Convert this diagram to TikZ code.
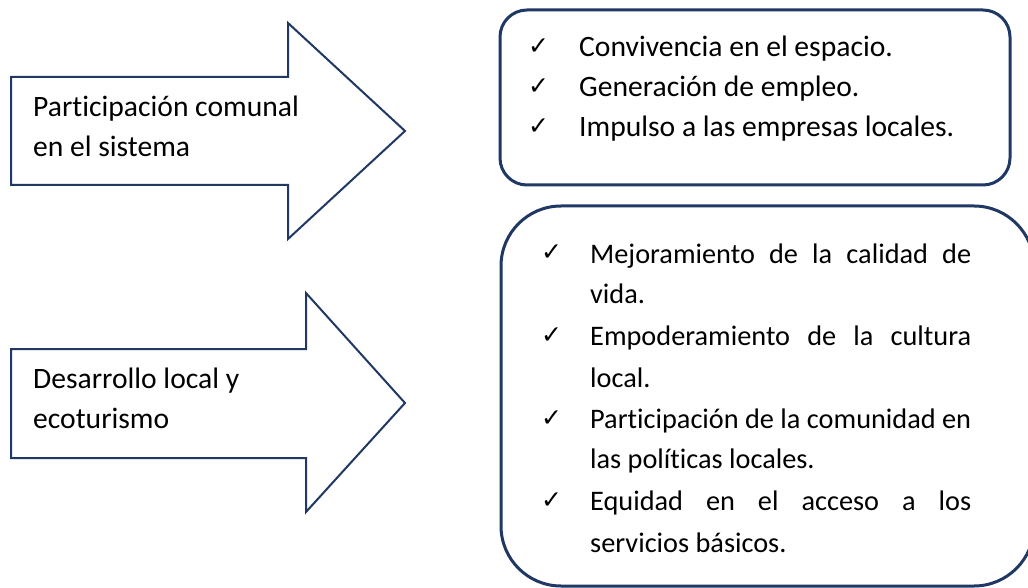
\documentclass[tikz,border=0pt]{standalone}
\usepackage{fontspec}
\setmainfont{Carlito}[Ligatures=NoCommon]
\newfontfamily\symfont{DejaVu Sans}
\definecolor{navy}{RGB}{31,56,100}
\begin{document}
\begin{tikzpicture}[x=1pt,y=-1pt,
  arrowshape/.style={draw=navy, line width=2pt, line join=miter, fill=white},
  boxshape/.style={draw=navy, line width=3pt},
  txt/.style={anchor=base west, inner sep=0pt, font=\fontsize{29.6}{34}\selectfont},
  txtb/.style={anchor=base west, inner sep=0pt, font=\fontsize{28.3}{34}\selectfont},
  chk/.style={anchor=base west, inner sep=0pt, font=\symfont\fontsize{25}{27}\selectfont}]
\useasboundingbox (0,0) rectangle (1028,588);
\clip (0,0) rectangle (1028,588);
\fill[white] (0,0) rectangle (1028,588);

% arrows
\draw[arrowshape] (11,77) -- (288,77) -- (288,23) -- (405,131) -- (288,239) -- (288,185) -- (11,185) -- cycle;
\draw[arrowshape] (11,349) -- (306,349) -- (306,293) -- (405,403) -- (306,512) -- (306,458) -- (11,458) -- cycle;

\node[txt] (a1) at (33,117) {Participación comunal};
\node[txt] (a2) at (33,157) {en el sistema};
\node[txt] (b1) at (33,388) {Desarrollo local y};
\node[txt] (b2) at (33,428) {ecoturismo};

% box 1
\draw[boxshape, rounded corners=27pt] (500,10) rectangle (1010,185);
\node[chk] (c1) at (528,55) {✓};
\node[chk] (c2) at (528,95) {✓};
\node[chk] (c3) at (528,135) {✓};
\node[txt] (t1) at (579,57) {Convivencia en el espacio.};
\node[txt] (t2) at (579,97) {Generación de empleo.};
\node[txt] (t3) at (579,137) {Impulso a las empresas locales.};

% box 2
\draw[boxshape, rounded corners=60pt] (501,206) rectangle (1034,586);
\node[chk] (d1) at (541,261) {✓};
\node[chk] (d2) at (541,343) {✓};
\node[chk] (d3) at (541,426) {✓};
\node[chk] (d4) at (541,508) {✓};
\node[txtb] (u1) at (590,263) {\makebox[381pt][s]{Mejoramiento de la calidad de}};
\node[txtb] (u2) at (590,303) {vida.};
\node[txtb] (u3) at (590,345) {\makebox[381pt][s]{Empoderamiento de la cultura}};
\node[txtb] (u4) at (590,387) {local.};
\node[txtb] (u5) at (590,428) {\makebox[381pt][s]{Participación de la comunidad en}};
\node[txtb] (u6) at (590,468) {las políticas locales.};
\node[txtb] (u7) at (590,510) {\makebox[381pt][s]{Equidad en el acceso a los}};
\node[txtb] (u8) at (590,552) {servicios básicos.};
\end{tikzpicture}
\end{document}
